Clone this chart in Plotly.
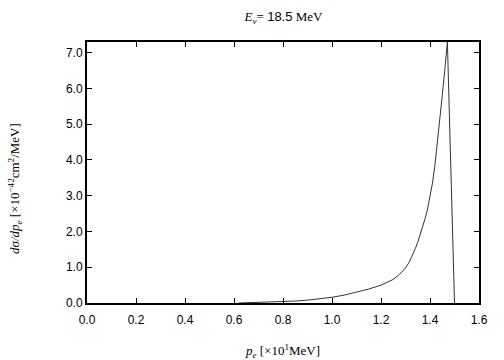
import plotly.graph_objects as go

p_e = [0.62, 0.65, 0.70, 0.75, 0.80, 0.85, 0.90, 0.95, 1.00, 1.05, 1.10, 1.15, 1.20, 1.225, 1.25,
       1.275, 1.30, 1.315, 1.33, 1.34, 1.35, 1.36, 1.37, 1.38, 1.39, 1.40, 1.41, 1.42, 1.43, 1.44,
       1.45, 1.46, 1.47, 1.471, 1.50]
dsigma = [0.0, 0.005, 0.012, 0.022, 0.035, 0.055, 0.08, 0.115, 0.16, 0.22, 0.30, 0.39, 0.50, 0.57,
          0.66, 0.80, 0.98, 1.14, 1.35, 1.52, 1.70, 1.90, 2.12, 2.36, 2.63, 2.95, 3.35, 3.85, 4.45,
          5.10, 5.80, 6.50, 7.20, 7.30, 0.0]

x_ticks = [0.0, 0.2, 0.4, 0.6, 0.8, 1.0, 1.2, 1.4, 1.6]
y_ticks = [0.0, 1.0, 2.0, 3.0, 4.0, 5.0, 6.0, 7.0]

SERIF = "'Liberation Serif', 'DejaVu Serif', serif"
SANS = "'Liberation Sans', Arial, sans-serif"

fig = go.Figure()
fig.add_trace(go.Scatter(x=p_e, y=dsigma, mode="lines",
                         line=dict(color="#333333", width=1), showlegend=False))

fig.update_layout(
    width=504, height=360,
    margin=dict(l=87, r=25, t=42, b=57, autoexpand=False),
    plot_bgcolor="white", paper_bgcolor="white",
    font=dict(family=SANS, size=12, color="black"),
    title=dict(
        text=("<i>E<sub>ν</sub></i>= <span style=\"font-family:'Liberation Sans'\">18.5</span> MeV"),
        font=dict(family=SERIF, size=13, color="black"),
        x=0.5625, xanchor="center", y=0.953, yanchor="middle",
    ),
    xaxis=dict(
        range=[0, 1.6], tickvals=x_ticks, ticktext=[f"{v:.1f}" for v in x_ticks],
        ticks="inside", ticklen=5, tickwidth=1, tickcolor="black",
        showline=True, linecolor="black", linewidth=2, mirror="ticks",
        showgrid=False, zeroline=False, automargin=False, ticklabelstandoff=5,
        tickfont=dict(family=SANS, size=12),
        title=dict(text="<i>p<sub>e</sub></i> [×10<sup>1</sup>MeV]",
                   font=dict(family=SERIF, size=13), standoff=30),
    ),
    yaxis=dict(
        range=[0, 7.3], tickvals=y_ticks, ticktext=[f"{v:.1f}" for v in y_ticks],
        ticks="inside", ticklen=5, tickwidth=1, tickcolor="black",
        showline=True, linecolor="black", linewidth=2, mirror="ticks",
        showgrid=False, zeroline=False, automargin=False,
        tickfont=dict(family=SANS, size=12),
    ),
    annotations=[dict(
        text="<i>dσ/dp<sub>e</sub></i> [×10<sup>−42</sup>cm<sup>2</sup>/MeV]",
        font=dict(family=SERIF, size=13, color="black"),
        textangle=-90, xref="paper", yref="paper", x=-0.184, y=0.44,
        xanchor="center", yanchor="middle", showarrow=False,
    )],
)

fig.write_html("out.html", config={"displayModeBar": False},
               post_script="document.body.style.margin='0';document.body.style.padding='0';")
